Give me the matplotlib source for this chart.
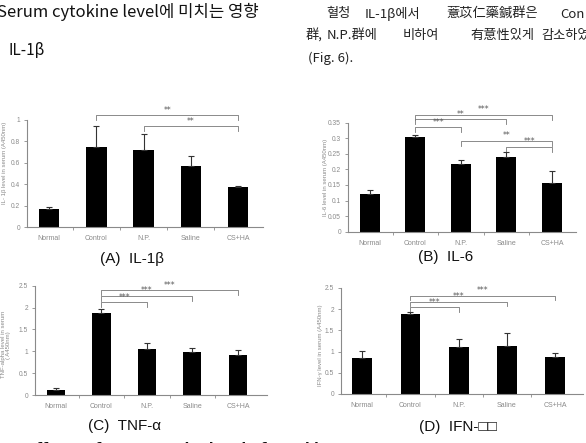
import numpy as np
import matplotlib
matplotlib.use("Agg")
from matplotlib import pyplot as plt
from matplotlib.ticker import FuncFormatter

plt.rcParams['font.family'] = ['Liberation Sans Narrow', 'Liberation Sans', 'DejaVu Sans']

W, H = 586, 443

groups = ["Normal", "Control", "N.P.", "Saline", "CS+HA"]

# (A) IL-1b
il1b_mean = [0.17, 0.75, 0.72, 0.57, 0.37]
il1b_err = [0.02, 0.195, 0.15, 0.09, 0.015]
il1b_sig = [(1, 4, 1.047, "**"), (2, 4, 0.944, "**")]

# (B) IL-6
il6_mean = [0.12, 0.305, 0.217, 0.239, 0.157]
il6_err = [0.014, 0.005, 0.013, 0.016, 0.039]
il6_sig = [(1, 4, 0.375, "***"), (1, 3, 0.361, "**"), (1, 2, 0.335, "***"),
           (2, 4, 0.292, "**"), (3, 4, 0.273, "***")]

# (C) TNF-a
tnf_mean = [0.114, 1.87, 1.05, 0.976, 0.915]
tnf_err = [0.04, 0.09, 0.13, 0.095, 0.115]
tnf_sig = [(1, 4, 2.40, "***"), (1, 3, 2.27, "***"), (1, 2, 2.12, "***")]

# (D) IFN-g
ifn_mean = [0.844, 1.885, 1.12, 1.128, 0.867]
ifn_err = [0.18, 0.045, 0.17, 0.32, 0.09]
ifn_sig = [(1, 4, 2.32, "***"), (1, 3, 2.18, "***"), (1, 2, 2.05, "***")]

fig = plt.figure(figsize=(W / 100, H / 100), dpi=100)
fig.patch.set_facecolor("white")


def px_axes(x0, x1, ytop, ybot):
    """Axes from pixel box (origin top-left)."""
    return fig.add_axes([x0 / W, (H - ybot) / H, (x1 - x0) / W, (ybot - ytop) / H])


def bar_panel(ax, means, errs, sigs, ymax, step, xlim, width, ylabel, lab_xy):
    x = np.arange(len(groups))
    ax.bar(x, means, width=width, color="black", zorder=2)
    ax.errorbar(x, means, yerr=[np.zeros(len(errs)), errs], fmt="none",
                ecolor="#333333", elinewidth=0.8, capsize=2, capthick=0.8, zorder=3)
    ax.set_xlim(*xlim)
    ax.set_ylim(0, ymax)
    ax.set_yticks(np.arange(0, ymax + step / 2, step))
    ax.yaxis.set_major_formatter(FuncFormatter(lambda v, p: f"{v:g}"))
    ax.set_xticks(x)
    ax.set_xticklabels(groups)
    ax.set_xticks(x[:-1] + 0.5, minor=True)
    for s in ["top", "right"]:
        ax.spines[s].set_visible(False)
    for s in ["left", "bottom"]:
        ax.spines[s].set_color("#8a8a8a")
        ax.spines[s].set_linewidth(0.8)
    ax.tick_params(axis="y", labelsize=4.8, colors="#8a8a8a", length=2, width=0.6, pad=3)
    ax.tick_params(axis="x", which="major", labelsize=5, colors="#8a8a8a", length=0, pad=6)
    ax.tick_params(axis="x", which="minor", length=2, width=0.6, colors="#8a8a8a")
    ax.set_ylabel(ylabel, fontsize=4.3, color="#8a8a8a", linespacing=1.0)
    ax.yaxis.set_label_coords(*lab_xy)
    ax.patch.set_alpha(0)
    tick = 0.045 * ymax
    for i, j, h, lab in sigs:
        ax.plot([i, i, j, j], [h - tick, h, h, h - tick], color="#777777", lw=0.6,
                clip_on=False, zorder=1)
        ax.text((i + j) / 2, h + 0.004 * ymax, lab, ha="center", va="bottom",
                fontsize=5.5, color="#555555", clip_on=False, family="DejaVu Sans")


axA = px_axes(27, 263, 120, 227)
bar_panel(axA, il1b_mean, il1b_err, il1b_sig, 1.0, 0.2, (-0.47, 4.53), 0.43,
          "IL- 1β level in serum (A450nm)", (-0.085, 0.6))

axB = px_axes(348, 576, 122.7, 231.7)
bar_panel(axB, il6_mean, il6_err, il6_sig, 0.35, 0.05, (-0.48, 4.53), 0.44,
          "IL-6 level in serum (A450nm)", (-0.088, 0.5))

axC = px_axes(35, 267, 285.7, 395)
bar_panel(axC, tnf_mean, tnf_err, tnf_sig, 2.5, 0.5, (-0.46, 4.64), 0.40,
          "TNF-alpha level in serum\n( A450nm)", (-0.105, 0.46))

axD = px_axes(341, 583, 288, 394)
bar_panel(axD, ifn_mean, ifn_err, ifn_sig, 2.5, 0.5, (-0.44, 4.58), 0.41,
          "IFN-γ level in serum (A450nm)", (-0.074, 0.46))

# panel titles
title_kw = dict(ha="center", va="center", fontsize=11, color="#111111")
fig.text(132 / W, 1 - 259 / H, "(A)  IL-1β", **title_kw)
fig.text(446 / W, 1 - 257 / H, "(B)  IL-6", **title_kw)
fig.text(124 / W, 1 - 426 / H, "(C)  TNF-α", **title_kw)
fig.text(458 / W, 1 - 427 / H, "(D)  IFN-□□", **title_kw)

# surrounding page text
kr = ['Noto Sans CJK KR', 'DejaVu Sans']
fig.text(-3 / W, 1 - 12 / H, "Serum cytokine level에 미치는 영향", family=kr,
         fontsize=12, ha="left", va="center", color="#111111")
fig.text(8 / W, 1 - 51 / H, "IL-1β", family=kr, fontsize=11, ha="left",
         va="center", color="#111111")

line1 = [(326, "혈청"), (365, "IL-1β에서"), (446, "薏苡仁藥鍼群은"), (560, "Con")]
line2 = [(306, "群,"), (327, "N.P.群에"), (403, "비하여"), (470, "有意性있게"), (541, "감소하였")]
for xp, word in line1:
    fig.text(xp / W, 1 - 14 / H, word, family=kr, fontsize=9.5, ha="left",
             va="center", color="#222222")
for xp, word in line2:
    fig.text(xp / W, 1 - 36 / H, word, family=kr, fontsize=9.5, ha="left",
             va="center", color="#222222")
fig.text(308 / W, 1 - 58 / H, "(Fig. 6).", family=kr, fontsize=9.5, ha="left",
         va="center", color="#222222")

# caption cut off at the bottom edge
fig.text(2 / W, 1 - 449 / H, "6.  Effects of SCAH on the level of cytokines",
         fontsize=10, fontweight="bold", ha="left", va="center", color="#111111",
         family="DejaVu Sans")

fig.savefig("out.png", dpi=100)
